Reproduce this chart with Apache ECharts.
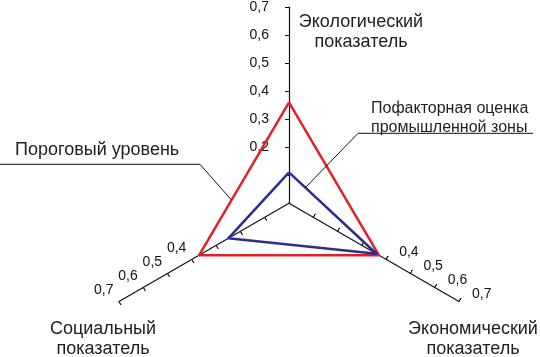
<!DOCTYPE html>
<html>
<head>
<meta charset="utf-8">
<script src="https://cdn.jsdelivr.net/npm/echarts@6/dist/echarts.min.js"></script>
<style>html,body{margin:0;padding:0;background:#fff}#c{width:540px;height:357px}</style>
</head>
<body>
<div id="c"></div>
<script>
const indicatorNames = ['Экологический\nпоказатель', 'Социальный\nпоказатель', 'Экономический\nпоказатель'];
const thresholdLevel = [0.36, 0.37, 0.37];
const zoneScores = [0.11, 0.25, 0.36];
const axisMax = 0.7;
const tickValues = [0.1, 0.2, 0.3, 0.4, 0.5, 0.6, 0.7];
const topLabels = [0.2, 0.3, 0.4, 0.5, 0.6, 0.7];
const sideLabels = [0.4, 0.5, 0.6, 0.7];
const seriesNames = ['Пороговый уровень', 'Пофакторная оценка\nпромышленной зоны'];

const FONT = '"Liberation Sans", Arial, sans-serif';
const TXT = '#1e1e1e';
const fmt = v => Number(v).toFixed(1).replace('.', ',');

const labelBase = { show: true, color: '#111', fontSize: 14, fontFamily: FONT, formatter: fmt };
const labelStyles = [
  Object.assign({}, labelBase, { customValues: topLabels, margin: 20, align: 'right', verticalAlign: 'middle' }),
  Object.assign({}, labelBase, { customValues: sideLabels, margin: -5, align: 'right', verticalAlign: 'bottom', padding: [0, 3, 0, 0] }),
  Object.assign({}, labelBase, { customValues: sideLabels, margin: 8, align: 'left', verticalAlign: 'middle', padding: [0, 0, 0, 9] })
];

const center = [289, 203.3];
const radius = 196.3;
const baseRadar = {
  center: center, radius: radius, startAngle: 90, splitNumber: 7,
  shape: 'polygon',
  axisName: { show: false },
  splitLine: { show: false },
  splitArea: { show: false }
};

const option = {
  animation: false,
  radar: [
    Object.assign({}, baseRadar, {
      indicator: indicatorNames.map((n, i) => ({ name: n, min: 0, max: axisMax, axisLabel: labelStyles[i] })),
      axisLine: { show: true, lineStyle: { color: '#111', width: 1.2 } },
      axisTick: { show: true, length: 4, customValues: tickValues, lineStyle: { color: '#111', width: 1 } },
      axisLabel: labelBase
    }),
    Object.assign({}, baseRadar, {
      indicator: indicatorNames.map(n => ({ name: n, min: 0, max: axisMax })),
      axisLine: { show: false },
      axisTick: { show: true, inside: true, length: 4, customValues: tickValues, lineStyle: { color: '#111', width: 1 } },
      axisLabel: { show: false }
    })
  ],
  series: [
    {
      type: 'radar', radarIndex: 0, symbol: 'none', z: 3,
      lineStyle: { color: '#e2202b', width: 2.5 },
      data: [{ value: thresholdLevel, name: seriesNames[0] }]
    },
    {
      type: 'radar', radarIndex: 0, symbol: 'none', z: 4,
      lineStyle: { color: '#2d2d8e', width: 2.5 },
      data: [{ value: zoneScores, name: seriesNames[1] }]
    }
  ],
  graphic: [
    { type: 'text', x: 361, y: 12, style: { text: indicatorNames[0], font: '18px ' + FONT, fill: TXT, align: 'center', verticalAlign: 'top', lineHeight: 20 } },
    { type: 'text', x: 103, y: 319, style: { text: indicatorNames[1], font: '18px ' + FONT, fill: TXT, align: 'center', verticalAlign: 'top', lineHeight: 20 } },
    { type: 'text', x: 473, y: 319, style: { text: indicatorNames[2], font: '18px ' + FONT, fill: TXT, align: 'center', verticalAlign: 'top', lineHeight: 20 } },
    { type: 'text', x: 15, y: 141, style: { text: seriesNames[0], font: '18px ' + FONT, fill: TXT, verticalAlign: 'top' } },
    { type: 'text', x: 371, y: 99, style: { text: seriesNames[1], font: '16px ' + FONT, fill: TXT, lineHeight: 19, align: 'left', verticalAlign: 'top' } },
    { type: 'polyline', shape: { points: [[0, 164.3], [200, 164.3], [231, 199.5]] }, style: { stroke: '#111', lineWidth: 1, fill: null }, z: 10 },
    { type: 'polyline', shape: { points: [[533, 133.3], [358, 133.3], [305.5, 187.5]] }, style: { stroke: '#111', lineWidth: 1, fill: null }, z: 10 }
  ]
};
const chart = echarts.init(document.getElementById('c'), null, { renderer: 'canvas' });
chart.setOption(option);
</script>
</body>
</html>
